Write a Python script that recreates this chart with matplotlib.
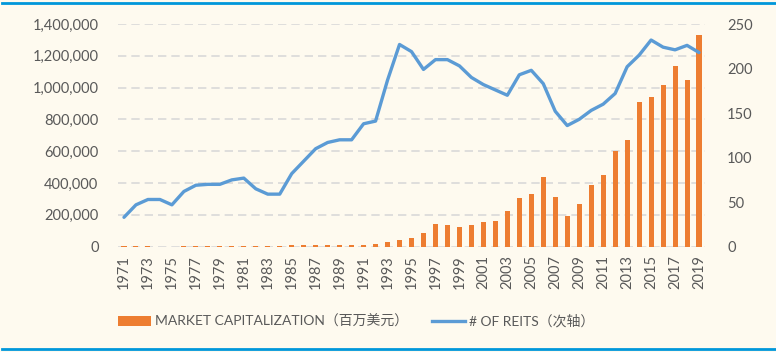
import matplotlib
matplotlib.use("Agg")
import matplotlib.pyplot as plt
from matplotlib.ticker import FuncFormatter
from matplotlib.lines import Line2D
from matplotlib.patches import Patch

years = list(range(1971, 2020))
market_cap = [1494, 1881, 1394, 712, 900, 1308, 1528, 1412, 1754, 2299,
              2439, 3299, 4257, 5085, 7674, 9924, 9702, 11435, 11662, 8737,
              12968, 15912, 32159, 44306, 57541, 88776, 140534, 138301, 124262, 138715,
              154899, 161937, 224212, 307895, 330691, 438071, 312009, 191651, 271199, 389295,
              450501, 603415, 670334, 907429, 938852, 1018730, 1133698, 1047641, 1328806]
num_reits = [33, 47, 53, 53, 47, 62, 69, 70, 70, 75,
             77, 65, 59, 59, 82, 96, 110, 117, 120, 120,
             138, 141, 187, 227, 219, 199, 210, 210, 203, 190,
             182, 176, 170, 193, 198, 183, 152, 136, 143, 153,
             160, 172, 202, 215, 232, 224, 221, 226, 218]
tick_labels = [str(y) for y in years]
legend_labels = ["MARKET CAPITALIZATION（百万美元）", "# OF REITS（次轴）"]

BG = "#FEFAEF"
ORANGE = "#ED7D31"
BLUE = "#5B9BD5"
TXT = "#595959"
FONT = ["Lato", "Noto Sans CJK SC", "DejaVu Sans"]
plt.rcParams["font.family"] = FONT

W, H = 776, 352
fig = plt.figure(figsize=(W / 100, H / 100), dpi=100, facecolor=BG)

left, right, top, bottom = 118, 705, 24, 246.7
ax = fig.add_axes([left / W, 1 - bottom / H, (right - left) / W, (bottom - top) / H])
ax.set_facecolor(BG)
x = list(range(len(years)))
ax.bar(x, market_cap, width=0.42, color=ORANGE, zorder=3)
ax.set_xlim(-0.5, len(years) - 0.5)
ax.set_ylim(0, 1400000)
ax.set_yticks(range(0, 1400001, 200000))
ax.yaxis.set_major_formatter(FuncFormatter(lambda v, p: f"{int(v):,}"))
ax.grid(axis="y", color="#D9D9D9", linestyle=(0, (5, 3)), linewidth=1.2, zorder=0)
for s in ax.spines.values():
    s.set_visible(False)
ax.set_xticks(x[::2])
ax.set_xticklabels(tick_labels[::2], rotation=90)
ax.tick_params(axis="both", length=0, colors=TXT, labelsize=10.5)
ax.tick_params(axis="x", pad=6)
ax.tick_params(axis="y", pad=14)

ax2 = ax.twinx()
ax2.plot(x, num_reits, color=BLUE, linewidth=2.4, zorder=4, solid_capstyle="round")
ax2.set_ylim(0, 250)
ax2.set_yticks(range(0, 251, 50))
for s in ax2.spines.values():
    s.set_visible(False)
ax2.tick_params(axis="y", length=0, colors=TXT, labelsize=10.5, pad=16)

handles = [Patch(facecolor=ORANGE, edgecolor="none"),
           Line2D([0], [0], color=BLUE, linewidth=2.4)]
leg = fig.legend(handles, legend_labels, loc="center", bbox_to_anchor=(356 / W, 1 - 321 / H),
                 ncol=2, frameon=False, fontsize=10, columnspacing=1.7, handlelength=2.4,
                 handletextpad=0.3, labelcolor=TXT)

fig.add_artist(Line2D([2 / W, 1], [1 - 2.5 / H, 1 - 2.5 / H], color="#0097DA", linewidth=2))
fig.add_artist(Line2D([2 / W, 1], [1 - 348.5 / H, 1 - 348.5 / H], color="#0097DA", linewidth=2))

fig.savefig("out.png", dpi=100, facecolor=BG)
